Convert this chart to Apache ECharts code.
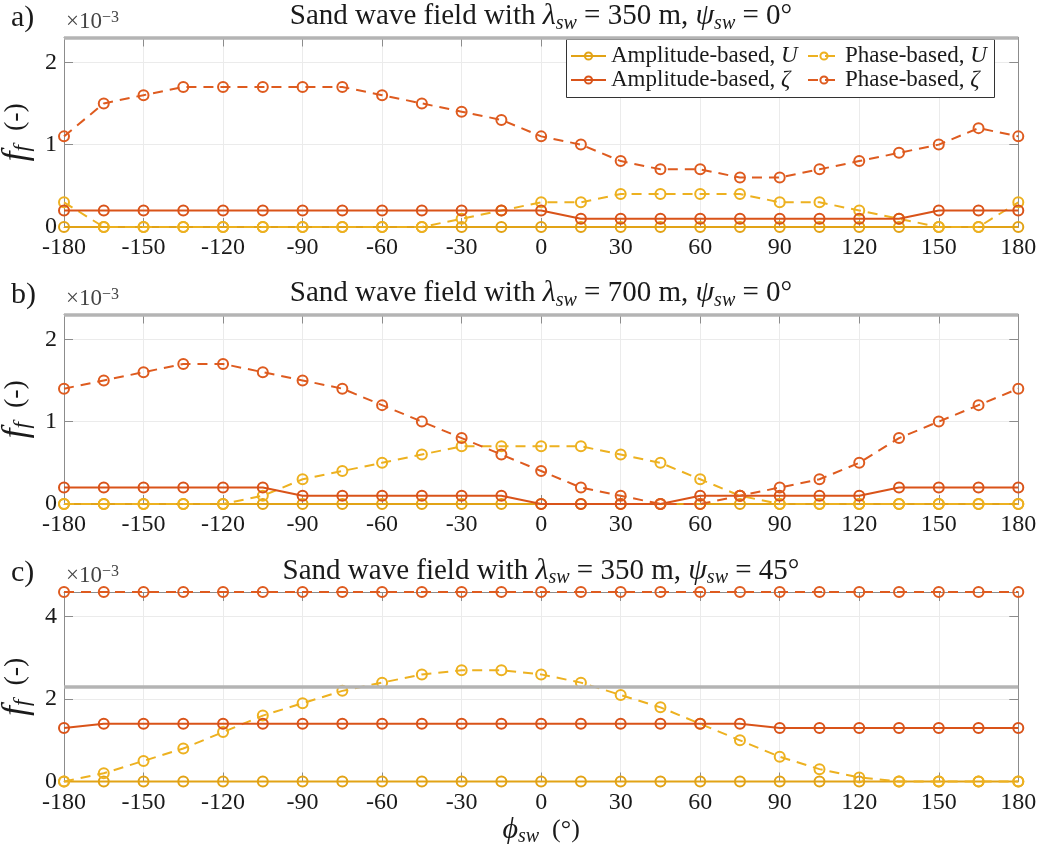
<!DOCTYPE html>
<html><head><meta charset="utf-8">
<script src="https://cdn.jsdelivr.net/npm/echarts@6/dist/echarts.min.js"></script>
<style>html,body{margin:0;padding:0;background:#fff}#c{width:1045px;height:854px}
#fp{position:absolute;left:-9999px;top:0;font-family:'Liberation Serif';font-size:24px}</style>
</head><body><div id="fp">Sand wave 0123456789 <i>λψζUfϕ</i></div><div id="c"></div>
<script>
// x values: phi_sw (degrees)
const phi = [-180,-165,-150,-135,-120,-105,-90,-75,-60,-45,-30,-15,0,15,30,45,60,75,90,105,120,135,150,165,180];
// values in units of 1e-3
// Panel a: lambda = 350 m, psi = 0
const aAmpU     = [0,0,0,0,0,0,0,0,0,0,0,0,0,0,0,0,0,0,0,0,0,0,0,0,0];
const aPhaseU   = [0.3,0,0,0,0,0,0,0,0,0,0.1,0.2,0.3,0.3,0.4,0.4,0.4,0.4,0.3,0.3,0.2,0.1,0,0,0.3];
const aAmpZeta  = [0.2,0.2,0.2,0.2,0.2,0.2,0.2,0.2,0.2,0.2,0.2,0.2,0.2,0.1,0.1,0.1,0.1,0.1,0.1,0.1,0.1,0.1,0.2,0.2,0.2];
const aPhaseZeta= [1.1,1.5,1.6,1.7,1.7,1.7,1.7,1.7,1.6,1.5,1.4,1.3,1.1,1.0,0.8,0.7,0.7,0.6,0.6,0.7,0.8,0.9,1.0,1.2,1.1];
// Panel b: lambda = 700 m, psi = 0
const bAmpU     = [0,0,0,0,0,0,0,0,0,0,0,0,0,0,0,0,0,0,0,0,0,0,0,0,0];
const bPhaseU   = [0,0,0,0,0,0.1,0.3,0.4,0.5,0.6,0.7,0.7,0.7,0.7,0.6,0.5,0.3,0.1,0,0,0,0,0,0,0];
const bAmpZeta  = [0.2,0.2,0.2,0.2,0.2,0.2,0.1,0.1,0.1,0.1,0.1,0.1,0,0,0,0,0.1,0.1,0.1,0.1,0.1,0.2,0.2,0.2,0.2];
const bPhaseZeta= [1.4,1.5,1.6,1.7,1.7,1.6,1.5,1.4,1.2,1.0,0.8,0.6,0.4,0.2,0.1,0,0,0.1,0.2,0.3,0.5,0.8,1.0,1.2,1.4];
// Panel c: lambda = 350 m, psi = 45
const cAmpU     = [0,0,0,0,0,0,0,0,0,0,0,0,0,0,0,0,0,0,0,0,0,0,0,0,0];
const cPhaseU   = [0,0.2,0.5,0.8,1.2,1.6,1.9,2.2,2.4,2.6,2.7,2.7,2.6,2.4,2.1,1.8,1.4,1.0,0.6,0.3,0.1,0,0,0,0];
const cAmpZeta  = [1.3,1.4,1.4,1.4,1.4,1.4,1.4,1.4,1.4,1.4,1.4,1.4,1.4,1.4,1.4,1.4,1.4,1.4,1.3,1.3,1.3,1.3,1.3,1.3,1.3];
const cPhaseZeta= [4.6,4.6,4.6,4.6,4.6,4.6,4.6,4.6,4.6,4.6,4.6,4.6,4.6,4.6,4.6,4.6,4.6,4.6,4.6,4.6,4.6,4.6,4.6,4.6,4.6];
const refLevel = 2.3;
const yMax = [2.3, 2.3, 4.6];
const yInterval = [1, 1, 2];
const panelLabels = ['a)', 'b)', 'c)'];
const lambdas = ['350', '700', '350'];
const psis = ['0', '0', '45'];
const seriesNames = ['Amplitude-based, U', 'Phase-based, U', 'Amplitude-based, ζ', 'Phase-based, ζ'];
const panels = [
  [aAmpU, aPhaseU, aAmpZeta, aPhaseZeta],
  [bAmpU, bPhaseU, bAmpZeta, bPhaseZeta],
  [cAmpU, cPhaseU, cAmpZeta, cPhaseZeta]
];

const FF = 'Liberation Serif';
const TXT = '#1a1a1a';
const AX = '#8c8c8c';
const colors = ['#E2A316', '#EDB120', '#D95319', '#DE5B1F'];
const dashed = [false, true, false, true];
const tops = [37.5, 314.5, 592];
const H = 189.5;

const xNameRich = {
  i: {fontStyle: 'italic', fontFamily: FF, fontSize: 30, lineHeight: 32, color: TXT},
  s: {fontStyle: 'italic', fontFamily: FF, fontSize: 20, lineHeight: 20, verticalAlign: 'bottom', color: TXT},
  n: {fontStyle: 'normal', fontFamily: FF, fontSize: 26, lineHeight: 32, color: TXT}
};
const yNameRich = {
  i: {fontStyle: 'italic', fontFamily: FF, fontSize: 36, lineHeight: 36, color: TXT},
  s: {fontStyle: 'italic', fontFamily: FF, fontSize: 23, lineHeight: 22, verticalAlign: 'bottom', color: TXT},
  n: {fontStyle: 'normal', fontFamily: FF, fontSize: 28, lineHeight: 36, color: TXT}
};

const grids = [], xAxes = [], yAxes = [], series = [], graphics = [];
tops.forEach((t, i) => {
  grids.push({left: 64, right: 26.7, top: t, height: H, containLabel: false, outerBoundsMode: 'none'});
  const xBase = {type: 'value', min: -180, max: 180, interval: 30, gridIndex: i};
  xAxes.push(Object.assign({}, xBase, {
    position: 'bottom',
    axisLine: {show: true, onZero: false, lineStyle: {color: AX, width: 1}},
    axisTick: {show: true, inside: true, length: 9, lineStyle: {color: AX}},
    axisLabel: {show: true, color: TXT, fontFamily: FF, fontStyle: 'normal', fontSize: 24, margin: 9},
    splitLine: {show: true, lineStyle: {color: '#ebebeb', width: 1}},
    name: i === 2 ? '{i|ϕ}{s|sw}{n|  (°)}' : '',
    nameLocation: 'middle', nameGap: 30,
    nameTextStyle: {color: TXT, fontFamily: FF, fontSize: 26, rich: xNameRich}
  }));
  xAxes.push(Object.assign({}, xBase, {
    position: 'top',
    axisLine: {show: true, onZero: false, lineStyle: {color: AX, width: 1}},
    axisTick: {show: true, inside: true, length: 9, lineStyle: {color: AX}},
    axisLabel: {show: false}, splitLine: {show: false}
  }));
  const yBase = {type: 'value', min: 0, max: yMax[i], interval: yInterval[i], gridIndex: i};
  yAxes.push(Object.assign({}, yBase, {
    position: 'left',
    axisLine: {show: true, onZero: false, lineStyle: {color: AX, width: 1}},
    axisTick: {show: true, inside: true, length: 9, lineStyle: {color: AX}},
    axisLabel: {show: true, color: TXT, fontFamily: FF, fontStyle: 'normal', fontSize: 24, margin: 7, showMaxLabel: false},
    splitLine: {show: true, lineStyle: {color: '#ebebeb', width: 1}},
    name: '{i|f}{s|f}{n|  (-)}', nameLocation: 'middle', nameGap: 18,
    nameTextStyle: {color: TXT, fontFamily: FF, fontSize: 28, rich: yNameRich}
  }));
  yAxes.push(Object.assign({}, yBase, {
    position: 'right',
    axisLine: {show: true, onZero: false, lineStyle: {color: AX, width: 1}},
    axisTick: {show: true, inside: true, length: 9, lineStyle: {color: AX}},
    axisLabel: {show: false}, splitLine: {show: false}
  }));
  panels[i].forEach((vals, k) => {
    const s = {
      name: seriesNames[k], type: 'line',
      xAxisIndex: 2 * i, yAxisIndex: 2 * i,
      data: phi.map((p, j) => [p, vals[j]]),
      symbol: 'circle', symbolSize: 10, clip: false,
      lineStyle: {color: colors[k], width: 2, type: dashed[k] ? [10, 7] : 'solid'},
      itemStyle: {color: 'rgba(255,255,255,0)', borderColor: colors[k], borderWidth: 2},
      emphasis: {disabled: true}, z: 2 + k
    };
    if (k === 0) {
      s.markLine = {silent: true, symbol: 'none', label: {show: false}, animation: false,
        lineStyle: {color: '#b4b4b4', width: 3.5, type: 'solid'}, data: [{yAxis: refLevel}]};
    }
    series.push(s);
  });
  const richT = {
    i: {fontStyle: 'italic', fontFamily: FF, fontSize: 30, lineHeight: 34, fill: TXT},
    s: {fontStyle: 'italic', fontFamily: FF, fontSize: 20, lineHeight: 20, verticalAlign: 'bottom', fill: TXT},
    n: {fontStyle: 'normal', fontFamily: FF, fontSize: 29, lineHeight: 34, fill: TXT}
  };
  graphics.push({type: 'text', z: 10, x: 541, y: t - 21, style: {
    text: '{n|Sand wave field with }{i|λ}{s|sw}{n| = ' + lambdas[i] + ' m, }{i|ψ}{s|sw}{n| = ' + psis[i] + '°}',
    textAlign: 'center', textVerticalAlign: 'middle', rich: richT, fill: TXT, fontFamily: FF, fontSize: 29}});
  graphics.push({type: 'text', z: 10, x: 11, y: t - 19, style: {
    text: panelLabels[i], textAlign: 'left', textVerticalAlign: 'middle', fill: TXT, fontFamily: FF, fontSize: 30}});
  graphics.push({type: 'text', z: 10, x: 66, y: t - 16, style: {
    text: '{n|×10}{p|−3}', textAlign: 'left', textVerticalAlign: 'middle', fill: '#444',
    rich: {n: {fontFamily: FF, fontSize: 23, lineHeight: 24, fill: '#444'},
           p: {fontFamily: FF, fontSize: 16, lineHeight: 16, verticalAlign: 'top', fill: '#444'}}}});
});

graphics.push({type: 'rect', z: 3, shape: {x: 566.5, y: 39.5, width: 428, height: 58},
  style: {fill: '#fff', stroke: '#333', lineWidth: 1}});

const legendText = {color: TXT, fontFamily: FF, fontStyle: 'normal', fontSize: 23, lineHeight: 24,
  rich: {i: {fontStyle: 'italic', fontFamily: FF, fontSize: 23, lineHeight: 24, color: TXT}}};
const fmt = name => { const p = name.split(', '); return p[0] + ', {i|' + p[1] + '}'; };

const option = {
  animation: false,
  backgroundColor: '#fff',
  textStyle: {fontFamily: FF},
  grid: grids, xAxis: xAxes, yAxis: yAxes, series: series,
  graphic: graphics,
  legend: [
    {data: [seriesNames[0], seriesNames[2]], orient: 'vertical', left: 570, top: 44, itemWidth: 35, itemHeight: 9,
     itemGap: 0, padding: 0, z: 10, textStyle: legendText, formatter: fmt, selectedMode: false},
    {data: [seriesNames[1], seriesNames[3]], orient: 'vertical', left: 807, top: 44, itemWidth: 32, itemHeight: 9,
     itemGap: 0, padding: 0, z: 10, textStyle: legendText, formatter: fmt, selectedMode: false}
  ]
};
void document.getElementById('fp').offsetWidth;
const chart = echarts.init(document.getElementById('c'));
chart.setOption(option);
if (document.fonts && document.fonts.load) {
  Promise.all([
    document.fonts.load("24px 'Liberation Serif'"),
    document.fonts.load("italic 24px 'Liberation Serif'")
  ]).then(() => { chart.clear(); chart.setOption(option, true); }).catch(() => {});
}
</script>
</body></html>
